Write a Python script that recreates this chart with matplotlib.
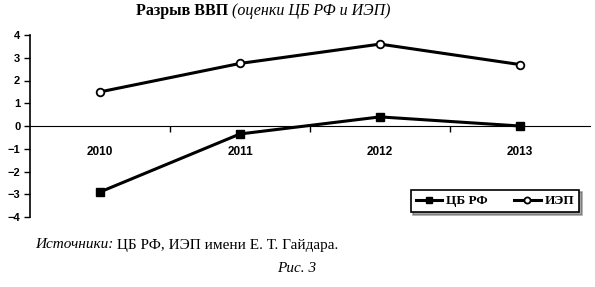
import matplotlib.pyplot as plt

years = ["2010", "2011", "2012", "2013"]
cb_rf = [-2.9, -0.35, 0.4, 0.0]
iep = [1.5, 2.75, 3.6, 2.7]
y_ticks = [-4, -3, -2, -1, 0, 1, 2, 3, 4]

plt.rcParams['font.family'] = ['Liberation Serif', 'DejaVu Serif']

fig = plt.figure(figsize=(5.95, 2.87), dpi=100)
ax = fig.add_axes([30 / 595, 1 - 217 / 287, 560 / 595, 182 / 287])

x = list(range(len(years)))
ax.plot(x, cb_rf, '-s', color='black', lw=2.2, ms=6, mfc='black', label='ЦБ РФ')
ax.plot(x, iep, '-o', color='black', lw=2.2, ms=5.5, mfc='white', mew=1.3, label='ИЭП')

ax.set_xlim(-0.5, 3.5)
ax.set_ylim(-4, 4)
ax.set_yticks(y_ticks)
ax.set_yticklabels([str(v).replace('-', '\u2212') for v in y_ticks],
                   fontfamily='Liberation Sans', fontweight='bold', fontsize=8)
ax.tick_params(axis='y', length=4, width=1, pad=3)

# x axis line at zero, ticks at category boundaries
for s in ['top', 'right']:
    ax.spines[s].set_visible(False)
ax.spines['bottom'].set_position(('data', 0))
ax.spines['left'].set_linewidth(1.2)
ax.set_xticks([0.5, 1.5, 2.5])
ax.set_xticklabels([])
ax.tick_params(axis='x', length=4, width=1, direction='out')
for i, yr in enumerate(years):
    ax.text(i, -1.15, yr, ha='center', va='center', fontfamily='Liberation Sans',
            fontweight='bold', fontsize=8.5)

leg = ax.legend(loc='center', bbox_to_anchor=(495 / 595, 1 - 201 / 287),
                bbox_transform=fig.transFigure, ncol=2, frameon=True,
                fancybox=False, shadow=True, edgecolor='black',
                prop={'weight': 'bold', 'size': 9.5}, handlelength=2.0,
                columnspacing=2.0, borderpad=0.4, handletextpad=0.3,
                markerscale=0.8)
leg.get_frame().set_linewidth(1.2)


def two_part(x0, y0, a, b, kw_a, kw_b, center=False):
    r = fig.canvas.get_renderer()
    t1 = fig.text(x0, y0, a, ha='left', va='center', **kw_a)
    w1 = t1.get_window_extent(r).width / fig.bbox.width
    t2 = fig.text(x0 + w1, y0, " " + b, ha='left', va='center', **kw_b)
    if center:
        w2 = t2.get_window_extent(r).width / fig.bbox.width
        shift = (w1 + w2) / 2
        t1.set_x(x0 - shift)
        t2.set_x(x0 - shift + w1)


two_part(263 / 595, 1 - 11 / 287, "Разрыв ВВП", "(оценки ЦБ РФ и ИЭП)",
         dict(fontweight='bold', fontsize=11.5), dict(fontstyle='italic', fontsize=11.5),
         center=True)
two_part(35 / 595, 1 - 245 / 287, "Источники:", "ЦБ РФ, ИЭП имени Е. Т. Гайдара.",
         dict(fontstyle='italic', fontsize=11), dict(fontsize=11))
fig.text(297 / 595, 1 - 268 / 287, "Рис. 3", ha='center', va='center',
         fontstyle='italic', fontsize=11)

fig.savefig("out.png", dpi=100)
